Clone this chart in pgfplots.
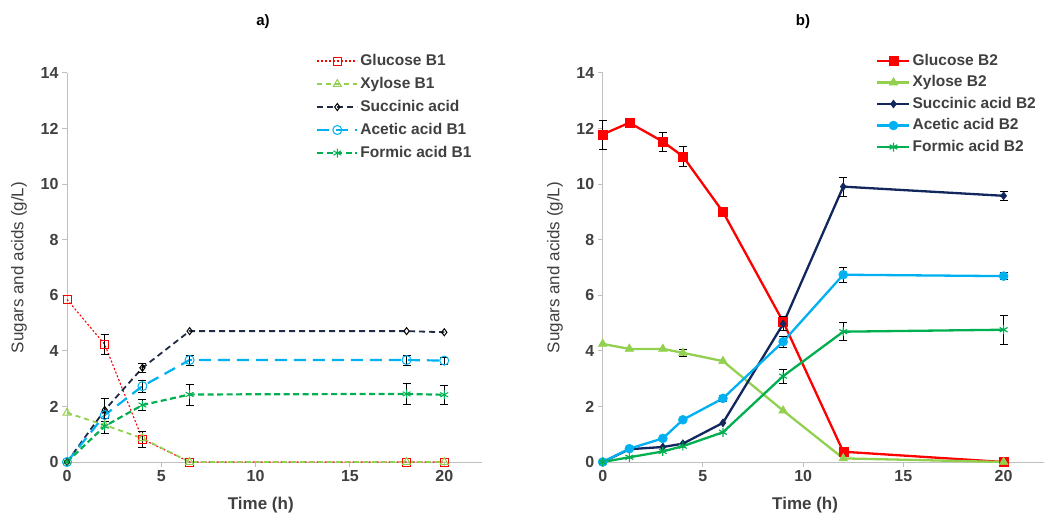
\documentclass[border=0pt]{standalone}
\usepackage{pgfplots}
\pgfplotsset{compat=1.18}
\usepackage{fontspec}
\setmainfont{Liberation Sans}
\definecolor{cred}{HTML}{FF0000}
\definecolor{clgreen}{HTML}{92D050}
\definecolor{cnavyA}{HTML}{1F2A44}
\definecolor{cnavyB}{HTML}{12275E}
\definecolor{cblue}{HTML}{00B0F0}
\definecolor{cgreen}{HTML}{00B050}
\definecolor{axgrey}{HTML}{BFBFBF}
\definecolor{txt}{HTML}{404040}
\begin{document}
\begin{tikzpicture}
\useasboundingbox (0pt,0pt) rectangle (1056pt,516pt);
\pgfplotsset{
 common/.style={
  scale only axis, height=389pt,
  xmin=0,xmax=22,ymin=0,ymax=14,
  xtick={0,5,10,15,20}, ytick={0,2,...,14},
  axis x line*=bottom, axis y line*=left,
  axis line style={draw=axgrey, line width=1pt, -},
  tick style={draw=axgrey, line width=1pt}, tick align=outside, major tick length=5pt,
  ticklabel style={font=\bfseries\fontsize{16}{16}\selectfont, text=txt},
  /pgf/number format/assume math mode=true,
  xlabel={Time (h)}, ylabel={Sugars and acids (g/L)},
  xlabel style={font=\bfseries\fontsize{17}{17}\selectfont, text=txt, anchor=center},
  ylabel style={font=\fontsize{17}{17}\selectfont, text=txt, anchor=center},
  clip=false,
 },
 ebplot/.style={draw=none, mark=none, forget plot,
  error bars/.cd, y dir=both, y explicit,
  error bar style={black, line width=0.7pt, solid},
  error mark options={black, rotate=90, mark size=4pt, line width=0.7pt, solid}},
}
% ---------------- Left plot ----------------
\begin{axis}[common, width=415pt, at={(67pt,54pt)}, anchor=south west,
  xlabel style={at={(axis description cs:0.467,-0.112)}},
  ylabel style={at={(axis description cs:-0.116,0.5)}},
  legend style={draw=none, fill=none, at={(rel axis cs:0.6,1.057)}, anchor=north west,
   font=\bfseries\fontsize{15.5}{16}\selectfont, inner sep=0pt, row sep=3pt,
   nodes={inner sep=2pt, text height=12pt, text depth=4pt}},
  legend cell align=left,
  legend image code/.code={\draw[mark repeat=2,mark phase=2,#1] plot coordinates {(0pt,0pt) (20pt,0pt) (40pt,0pt)};},
]
\addplot[color=cred, draw=cred, line width=1.1pt, dash pattern=on 2pt off 2pt, mark=square, mark size=4pt,
  mark options={solid, fill=white, draw=cred, line width=1pt}]
 table {
0 5.85
2 4.23
4 0.82
6.5 0
18 0
20 0
};
\addlegendentry{\textcolor{txt}{Glucose B1}}
\addplot[color=clgreen, line width=1.8pt, dash pattern=on 5pt off 4pt, mark=triangle, mark size=4.5pt,
  mark options={solid, fill=white, draw=clgreen, line width=1pt}]
 table {
0 1.77
2 1.33
4 0.85
6.5 0
18 0
20 0
};
\addlegendentry{\textcolor{txt}{Xylose B1}}
\addplot[color=cnavyA, line width=1.8pt, dash pattern=on 6pt off 4pt, mark=diamond, mark size=3.5pt,
  mark options={solid, fill=white, draw=black, line width=1pt}]
 table {
0 0
2 1.87
4 3.39
6.5 4.71
18 4.71
20 4.67
};
\addlegendentry{\textcolor{txt}{Succinic acid}}
\addplot[color=cblue, line width=2.2pt, dash pattern=on 12pt off 7pt, mark=o, mark size=4.5pt,
  mark options={solid, fill=white, draw=cblue, line width=1pt}]
 table {
0 0
2 1.69
4 2.73
6.5 3.67
18 3.67
20 3.65
};
\addlegendentry{\textcolor{txt}{Acetic acid B1}}
\addplot[color=cgreen, line width=2.2pt, dash pattern=on 6pt off 3.5pt, mark=asterisk, mark size=4.5pt,
  mark options={solid, draw=cgreen, line width=1pt}]
 table {
0 0
2 1.29
4 2.05
6.5 2.43
18 2.45
20 2.42
};
\addlegendentry{\textcolor{txt}{Formic acid B1}}
% error bars (glucose, succinic, acetic, formic)
\addplot[ebplot] table[x=x,y=y,y error=e] {
x y e
2 4.23 0.36
4 0.82 0.28
2 1.87 0.42
4 3.39 0.15
2 1.69 0.12
4 2.73 0.22
6.5 3.67 0.18
18 3.67 0.18
20 3.65 0.12
2 1.29 0.27
4 2.05 0.2
6.5 2.43 0.38
18 2.45 0.38
20 2.42 0.33
};
\end{axis}
% ---------------- Right plot ----------------
\begin{axis}[common, width=441pt, at={(602.7pt,54pt)}, anchor=south west,
  xlabel style={at={(axis description cs:0.459,-0.112)}},
  ylabel style={at={(axis description cs:-0.108,0.5)}},
  legend style={draw=none, fill=none, at={(rel axis cs:0.62,1.057)}, anchor=north west,
   font=\bfseries\fontsize{15.5}{16}\selectfont, inner sep=0pt, row sep=1.5pt,
   nodes={inner sep=2pt, text height=12pt, text depth=4pt}},
  legend cell align=left,
  legend image code/.code={\draw[mark repeat=2,mark phase=2,#1] plot coordinates {(0pt,0pt) (16pt,0pt) (32pt,0pt)};},
]
\addplot[color=cred, line width=2.3pt, mark=square*, mark size=4.5pt,
  mark options={solid, fill=cred, draw=cred, line width=0.5pt}]
 table {
0 11.79
1.33 12.21
3 11.53
4 11.0
6 9.0
9 5.05
12 0.37
20 0
};
\addlegendentry{\textcolor{txt}{Glucose B2}}
\addplot[color=clgreen, line width=2.3pt, mark=triangle*, mark size=5pt,
  mark options={solid, fill=clgreen, draw=clgreen, line width=0.5pt}]
 table {
0 4.25
1.33 4.07
3 4.07
4 3.93
6 3.63
9 1.85
12 0.13
20 0
};
\addlegendentry{\textcolor{txt}{Xylose B2}}
\addplot[color=cnavyB, line width=2.3pt, mark=diamond*, mark size=4pt,
  mark options={solid, fill=cnavyB, draw=cnavyB, line width=0.5pt}]
 table {
0 0
1.33 0.46
3 0.54
4 0.66
6 1.41
9 4.97
12 9.91
20 9.58
};
\addlegendentry{\textcolor{txt}{Succinic acid B2}}
\addplot[color=cblue, line width=2.3pt, mark=*, mark size=4.5pt,
  mark options={solid, fill=cblue, draw=cblue, line width=0.5pt}]
 table {
0 0
1.33 0.48
3 0.85
4 1.52
6 2.29
9 4.33
12 6.74
20 6.69
};
\addlegendentry{\textcolor{txt}{Acetic acid B2}}
\addplot[color=cgreen, line width=2.3pt, mark=asterisk, mark size=4.5pt,
  mark options={solid, draw=cgreen, line width=1.2pt}]
 table {
0 0
1.33 0.17
3 0.38
4 0.57
6 1.07
9 3.09
12 4.69
20 4.76
};
\addlegendentry{\textcolor{txt}{Formic acid B2}}
% error bars
\addplot[ebplot] table[x=x,y=y,y error=e] {
x y e
0 11.79 0.52
3 11.53 0.35
4 11.0 0.36
9 5.05 0.18
4 3.93 0.12
6 2.29 0.12
9 4.97 0.25
12 9.91 0.35
20 9.58 0.16
9 4.33 0.2
12 6.74 0.28
20 6.69 0.12
9 3.09 0.25
12 4.69 0.32
20 4.76 0.52
};
\end{axis}
\node[font=\bfseries\fontsize{15}{15}\selectfont, text=black] at (263pt,494pt) {a)};
\node[font=\bfseries\fontsize{15}{15}\selectfont, text=black] at (803pt,494pt) {b)};
\end{tikzpicture}
\end{document}
